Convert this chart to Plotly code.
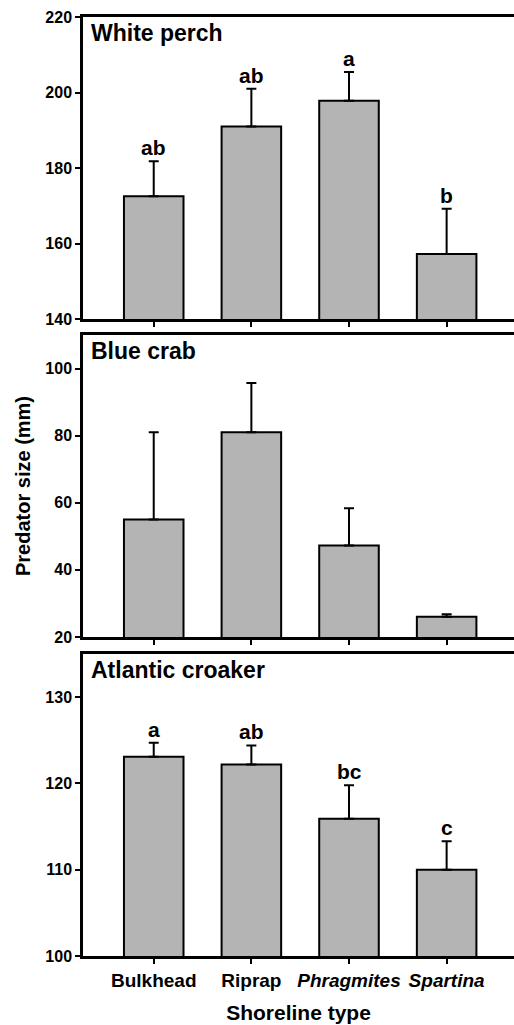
import plotly.graph_objects as go

# Shoreline categories (x axis)
shorelines = ["Bulkhead", "Riprap", "<i>Phragmites</i>", "<i>Spartina</i>"]

# Panel names
species = ["White perch", "Blue crab", "Atlantic croaker"]

# Mean predator size (mm) and standard error, per species
white_perch_mean = [172.5, 191.0, 197.8, 157.2]
white_perch_se = [9.3, 10.0, 7.6, 12.0]
blue_crab_mean = [55.0, 81.0, 47.3, 26.0]
blue_crab_se = [26.0, 14.7, 11.1, 0.8]
croaker_mean = [123.1, 122.2, 115.9, 110.0]
croaker_se = [1.6, 2.2, 3.9, 3.3]

# Significance letters above bars
white_perch_letters = ["ab", "ab", "a", "b"]
blue_crab_letters = ["", "", "", ""]
croaker_letters = ["a", "ab", "bc", "c"]

# Axis ranges and tick spacing per panel
y_ranges = [[140, 220], [20, 110], [100, 135]]
y_dticks = [20, 20, 10]

means = [white_perch_mean, blue_crab_mean, croaker_mean]
ses = [white_perch_se, blue_crab_se, croaker_se]
letters = [white_perch_letters, blue_crab_letters, croaker_letters]

FONT = "Liberation Sans, Arial, Helvetica, sans-serif"
BAR_FILL = "#b4b4b4"

W, H = 514, 1025
M_L, M_R, M_T, M_B = 83, 0, 17, 69
ph = H - M_T - M_B

def frac(y_px):
    return 1 - (y_px - M_T) / ph

# pixel rows of each panel (top, bottom)
panel_px = [(17, 319), (335, 637), (654, 956)]

fig = go.Figure()
xcats = list(range(len(shorelines)))

for i in range(3):
    xa = "x" if i == 0 else f"x{i+1}"
    ya = "y" if i == 0 else f"y{i+1}"
    fig.add_trace(go.Bar(
        x=xcats, y=means[i],
        width=0.61,
        marker=dict(color=BAR_FILL, line=dict(color="black", width=2)),
        error_y=dict(type="data", symmetric=False, array=ses[i],
                     arrayminus=[0] * len(ses[i]),
                     color="black", thickness=2, width=5),
        xaxis=xa, yaxis=ya, showlegend=False, hoverinfo="skip",
    ))
    for j, lab in enumerate(letters[i]):
        if lab:
            fig.add_annotation(
                x=xcats[j], y=means[i][j] + ses[i][j], xref=xa, yref=ya,
                text=f"<b>{lab}</b>", showarrow=False, yanchor="bottom",
                yshift=0, font=dict(family=FONT, size=21, color="black"),
            )
    # panel title inside top-left
    fig.add_annotation(
        x=0, y=1, xref=f"{xa} domain", yref=f"{ya} domain",
        text=f"<b>{species[i]}</b>", showarrow=False,
        xanchor="left", yanchor="top", xshift=6, yshift=-1,
        font=dict(family=FONT, size=23, color="black"),
    )

    top, bot = panel_px[i]
    last = i == 2
    layout_x = dict(
        domain=[0, 1], range=[-0.7245, 3.69],
        tickmode="array", tickvals=xcats, ticktext=shorelines,
        showticklabels=last, ticks="outside", ticklen=5, tickwidth=2,
        tickcolor="black", showline=True, linewidth=2.5, linecolor="black",
        mirror=True, showgrid=False, zeroline=False, anchor=ya,
        tickfont=dict(family=FONT, size=19, color="black", weight="bold"),
    )
    if last:
        layout_x["title"] = dict(
            text="<b>Shoreline type</b>", standoff=16,
            font=dict(family=FONT, size=21, color="black"))
    layout_y = dict(
        domain=[frac(bot), frac(top)], range=y_ranges[i],
        dtick=y_dticks[i], tick0=0, ticks="outside", ticklen=5, tickwidth=2,
        tickcolor="black", showline=True, linewidth=2.5, linecolor="black",
        mirror=False, showgrid=False, zeroline=False, anchor=xa,
        tickfont=dict(family=FONT, size=16, color="black", weight="bold"),
    )
    if i == 1:
        layout_y["title"] = dict(
            text="<b>Predator size (mm)</b>", standoff=10,
            font=dict(family=FONT, size=20, color="black"))
    fig.layout[f"xaxis{'' if i == 0 else i+1}"] = layout_x
    fig.layout[f"yaxis{'' if i == 0 else i+1}"] = layout_y

fig.update_layout(
    width=W, height=H,
    margin=dict(l=M_L, r=M_R, t=M_T, b=M_B, autoexpand=False),
    plot_bgcolor="white", paper_bgcolor="white",
    bargap=0.39,
)

fig.write_html("out.html")
